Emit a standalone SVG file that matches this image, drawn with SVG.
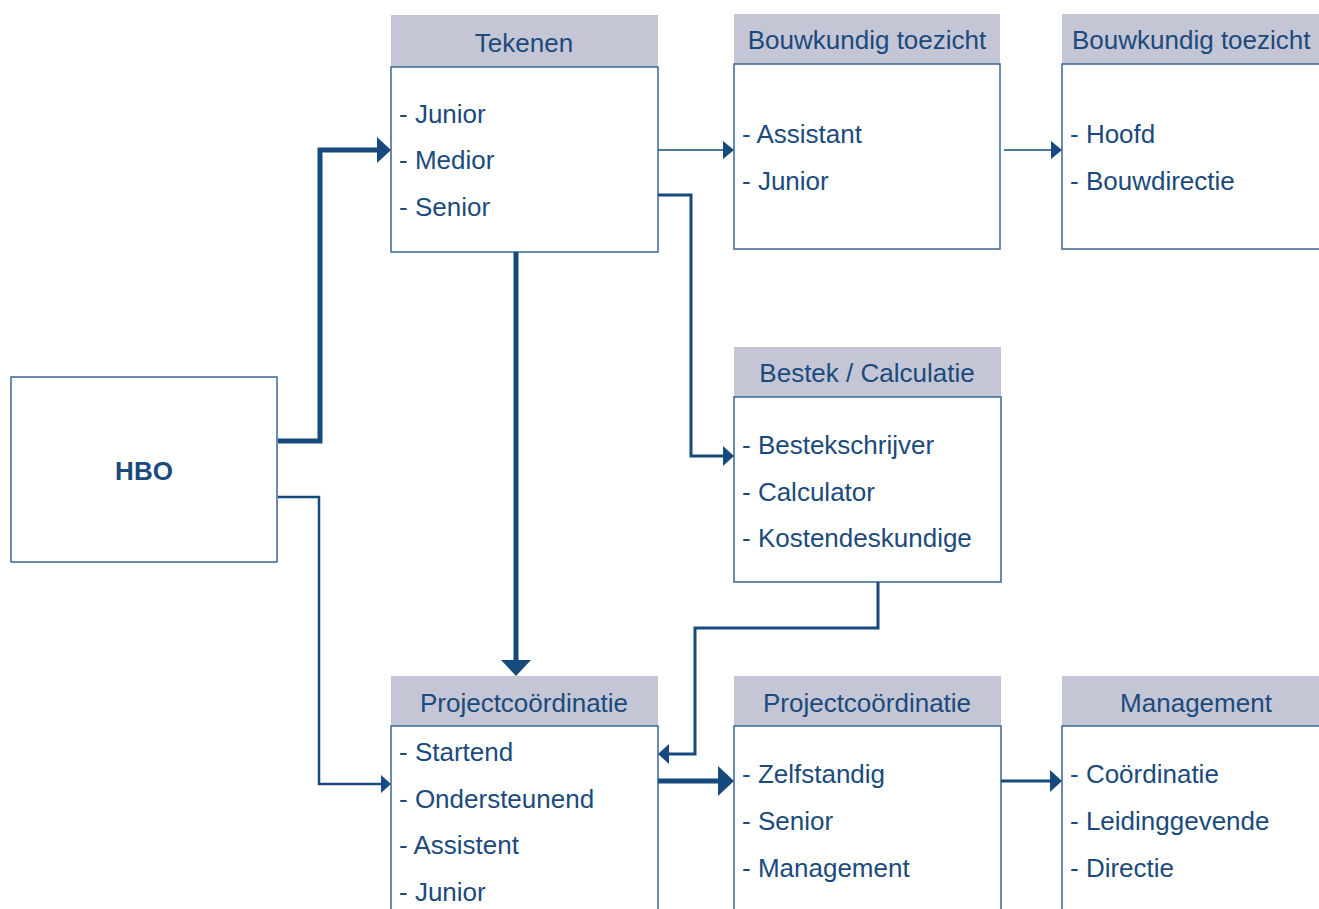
<svg xmlns="http://www.w3.org/2000/svg" width="1319" height="909" viewBox="0 0 1319 909">
<style>
.hd{fill:#c4c6d6}
.bd{fill:#fff;stroke:#3a6594;stroke-width:1.5}
.t{font-family:"Liberation Sans",Arial,sans-serif;font-size:26px;fill:#1b4a7c}
.h{text-anchor:middle}
.b{font-weight:bold}
.c{fill:none;stroke:#174a7c}
.ah{fill:#174a7c}
</style>
<rect width="1319" height="909" fill="#fff"/>
<g id="hbo">
<rect class="bd" x="11" y="377" width="266" height="185"/>
<text class="t h b" x="144" y="480">HBO</text>
</g>
<g id="tekenen">
<rect class="hd" x="391" y="15" width="267" height="52"/>
<rect class="bd" x="391" y="67" width="267" height="185"/>
<text class="t h" x="524" y="52">Tekenen</text>
<text class="t" x="399" y="123">- Junior</text>
<text class="t" x="399" y="169">- Medior</text>
<text class="t" x="399" y="216">- Senior</text>
</g>
<g id="bouwkundig1">
<rect class="hd" x="734" y="14" width="266" height="50"/>
<rect class="bd" x="734" y="64" width="266" height="185"/>
<text class="t h" x="867" y="49">Bouwkundig toezicht</text>
<text class="t" x="742" y="143">- Assistant</text>
<text class="t" x="742" y="190">- Junior</text>
</g>
<g id="bouwkundig2">
<rect class="hd" x="1062" y="14" width="270" height="50"/>
<rect class="bd" x="1062" y="64" width="270" height="185"/>
<text class="t" x="1072" y="49">Bouwkundig toezicht</text>
<text class="t" x="1070" y="143">- Hoofd</text>
<text class="t" x="1070" y="190">- Bouwdirectie</text>
</g>
<g id="bestek">
<rect class="hd" x="734" y="347" width="267" height="50"/>
<rect class="bd" x="734" y="397" width="267" height="185"/>
<text class="t h" x="867" y="382">Bestek / Calculatie</text>
<text class="t" x="742" y="454">- Bestekschrijver</text>
<text class="t" x="742" y="501">- Calculator</text>
<text class="t" x="742" y="547">- Kostendeskundige</text>
</g>
<g id="projectcoordinatie1">
<rect class="hd" x="391" y="676" width="267" height="50"/>
<rect class="bd" x="391" y="726" width="267" height="200"/>
<text class="t h" x="524" y="712">Projectcoördinatie</text>
<text class="t" x="399" y="761">- Startend</text>
<text class="t" x="399" y="808">- Ondersteunend</text>
<text class="t" x="399" y="854">- Assistent</text>
<text class="t" x="399" y="901">- Junior</text>
</g>
<g id="projectcoordinatie2">
<rect class="hd" x="734" y="676" width="267" height="50"/>
<rect class="bd" x="734" y="726" width="267" height="200"/>
<text class="t h" x="867" y="712">Projectcoördinatie</text>
<text class="t" x="742" y="783">- Zelfstandig</text>
<text class="t" x="742" y="830">- Senior</text>
<text class="t" x="742" y="877">- Management</text>
</g>
<g id="management">
<rect class="hd" x="1062" y="676" width="270" height="50"/>
<rect class="bd" x="1062" y="726" width="270" height="200"/>
<text class="t h" x="1196" y="712">Management</text>
<text class="t" x="1070" y="783">- Coördinatie</text>
<text class="t" x="1070" y="830">- Leidinggevende</text>
<text class="t" x="1070" y="877">- Directie</text>
</g>
<g id="connectors">
<polyline class="c" stroke-width="5" points="278,441 320,441 320,150 378,150"/>
<polygon class="ah" points="377,137 391,150 377,163"/>
<polyline class="c" stroke-width="2.5" points="278,497 319,497 319,784 382,784"/>
<polygon class="ah" points="381,775 391,784 381,793"/>
<line class="c" stroke-width="5" x1="516" y1="252" x2="516" y2="662"/>
<polygon class="ah" points="501,660 531,660 516,676"/>
<line class="c" stroke-width="1.5" x1="658" y1="150" x2="724" y2="150"/>
<polygon class="ah" points="723,141 734,150 723,159"/>
<polyline class="c" stroke-width="3" points="658,195 691,195 691,456 724,456"/>
<polygon class="ah" points="723,446 734,456 723,466"/>
<line class="c" stroke-width="1.5" x1="1004" y1="150" x2="1052" y2="150"/>
<polygon class="ah" points="1051,141 1062,150 1051,159"/>
<polyline class="c" stroke-width="3" points="878,582 878,628 695,628 695,754 668,754"/>
<polygon class="ah" points="669,744 658,754 669,764"/>
<line class="c" stroke-width="5" x1="658" y1="781" x2="722" y2="781"/>
<polygon class="ah" points="718,766 734,781 718,796"/>
<line class="c" stroke-width="3" x1="1001" y1="781" x2="1052" y2="781"/>
<polygon class="ah" points="1050,770 1062,781 1050,792"/>
</g>
</svg>
